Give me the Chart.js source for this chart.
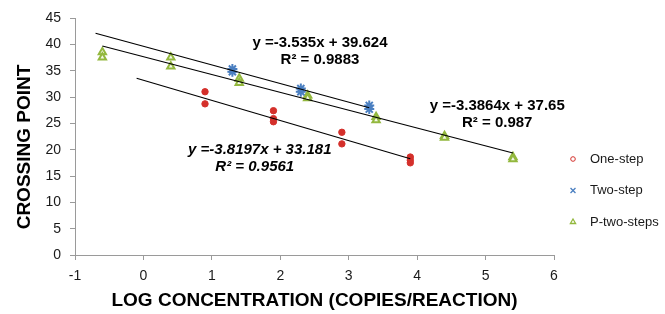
<!DOCTYPE html>
<html>
<head>
<meta charset="utf-8">
<script src="https://cdn.jsdelivr.net/npm/chart.js@4.4.1/dist/chart.umd.min.js"></script>
<style>
  html, body { margin: 0; padding: 0; background: #ffffff; }
  #wrap { width: 665px; height: 314px; position: relative; }
</style>
</head>
<body>
<div id="wrap"><canvas id="c" width="665" height="314"></canvas></div>
<script>
// ---- data ----
const xTickLabels = ['-1', '0', '1', '2', '3', '4', '5', '6'];
const yTickLabels = ['0', '5', '10', '15', '20', '25', '30', '35', '40', '45'];

const seriesNames = ['One-step', 'Two-step', 'P-two-steps'];

const oneStepX = [0.9, 0.9, 1.9, 1.9, 1.9, 2.9, 2.9, 3.9, 3.9, 3.9];
const oneStepY = [31.0, 28.7, 27.4, 25.9, 25.3, 23.3, 21.1, 18.6, 18.0, 17.5];

const twoStepX = [1.3, 1.3, 2.3, 2.3, 3.3, 3.3];
const twoStepY = [35.3, 34.8, 31.6, 31.0, 28.4, 27.7];

const pTwoX = [-0.6, -0.6, 0.4, 0.4, 1.4, 1.4, 2.4, 2.4, 3.4, 3.4, 4.4, 4.4, 5.4, 5.4];
const pTwoY = [38.5, 37.5, 37.5, 35.8, 33.5, 32.7, 30.3, 29.8, 26.2, 25.6, 22.6, 22.3, 18.6, 18.2];

// trendline end points (as drawn in the reference)
const trendOneX = [-0.1, 3.9];
const trendOneY = [33.56, 18.28];
const trendTwoX = [-0.7, 3.3];
const trendTwoY = [42.10, 27.96];
const trendPX = [-0.6, 5.4];
const trendPY = [39.68, 19.36];

const eqTexts = [
  ['y =-3.8197x + 33.181', 'R\u00B2 = 0.9561'],
  ['y =-3.535x + 39.624', 'R\u00B2 = 0.9883'],
  ['y =-3.3864x + 37.65', 'R\u00B2 = 0.987']
];

const xTitle = 'LOG CONCENTRATION (COPIES/REACTION)';
const yTitle = 'CROSSING POINT';

// ---- helpers ----
function pts(xs, ys) { return xs.map((x, i) => ({ x: x, y: ys[i] })); }

const RED = '#d4302b';
const BLUE = '#4a7fc1';
const GREEN = '#93b83e';
const FONT = '"Liberation Sans", Arial, Helvetica, sans-serif';

const trendStyle = {
  type: 'line', showLine: true, borderColor: '#000000', borderWidth: 1.2,
  pointRadius: 0, pointHoverRadius: 0, fill: false, tension: 0
};

const datasets = [
  Object.assign({ label: 'trend-one', data: pts(trendOneX, trendOneY) }, trendStyle),
  Object.assign({ label: 'trend-two', data: pts(trendTwoX, trendTwoY) }, trendStyle),
  Object.assign({ label: 'trend-p', data: pts(trendPX, trendPY) }, trendStyle),
  {
    label: seriesNames[0], type: 'scatter', data: pts(oneStepX, oneStepY),
    pointStyle: 'circle', pointRadius: 3.2, backgroundColor: RED, borderColor: RED, borderWidth: 1,
    legendStyle: { style: 'circle', r: 2.3, fill: '#ffffff', stroke: RED, w: 1 }
  },
  {
    label: seriesNames[1], type: 'scatter', data: pts(twoStepX, twoStepY),
    pointStyle: 'star', pointRadius: 5, backgroundColor: BLUE, borderColor: BLUE, borderWidth: 2,
    legendStyle: { style: 'crossRot', r: 3.5, fill: BLUE, stroke: BLUE, w: 1.3 }
  },
  {
    label: seriesNames[2], type: 'scatter', data: pts(pTwoX, pTwoY),
    pointStyle: 'triangle', pointRadius: 4.2, backgroundColor: '#f4f8ea', borderColor: GREEN, borderWidth: 2,
    legendStyle: { style: 'triangle', r: 3, fill: '#ffffff', stroke: GREEN, w: 1.3 }
  }
];

// annotations anchored in data coordinates
const eqAnchors = [
  { x: 1.70, y: 19.9, italic: true },
  { x: 2.58, y: 40.2, italic: false },
  { x: 5.17, y: 28.3, italic: false }
];

const annotationPlugin = {
  id: 'eqText',
  afterDatasetsDraw(chart) {
    const ctx = chart.ctx;
    const xs = chart.scales.x, ys = chart.scales.y;
    ctx.save();
    ctx.fillStyle = '#000000';
    ctx.textAlign = 'center';
    ctx.textBaseline = 'middle';
    eqTexts.forEach((lines, i) => {
      const a = eqAnchors[i];
      const px = xs.getPixelForValue(a.x);
      const py = ys.getPixelForValue(a.y);
      ctx.font = (a.italic ? 'italic ' : '') + 'bold 15px ' + FONT;
      ctx.fillText(lines[0], px, py);
      ctx.fillText(lines[1], px - (a.italic ? 5 : 0), py + 17);
    });
    ctx.restore();
  }
};

const yTitlePlugin = {
  id: 'yTitle',
  afterDraw(chart) {
    const ctx = chart.ctx;
    ctx.save();
    ctx.translate(25, 147);
    ctx.rotate(-Math.PI / 2);
    ctx.font = 'bold 19px ' + FONT;
    ctx.fillStyle = '#000000';
    ctx.textAlign = 'center';
    ctx.textBaseline = 'middle';
    ctx.fillText(yTitle, 0, 0);
    ctx.restore();
  }
};

const legendPlugin = {
  id: 'sideLegend',
  afterDraw(chart) {
    const ctx = chart.ctx;
    const area = chart.chartArea;
    const items = chart.data.datasets.filter(d => d.legendStyle);
    ctx.save();
    ctx.font = '13px ' + FONT;
    ctx.textBaseline = 'middle';
    ctx.textAlign = 'left';
    items.forEach((d, i) => {
      const cy = 159 + i * 31.5;
      const mx = area.right + 19;
      const s = d.legendStyle;
      ctx.fillStyle = s.fill;
      ctx.strokeStyle = s.stroke;
      ctx.lineWidth = s.w;
      Chart.helpers.drawPoint(ctx, { pointStyle: s.style, radius: s.r, borderWidth: s.w, rotation: 0 }, mx, cy);
      ctx.fillStyle = '#1a1a1a';
      ctx.fillText(d.label, mx + 17, cy);
    });
    ctx.restore();
  }
};

new Chart(document.getElementById('c'), {
  type: 'scatter',
  data: { datasets: datasets },
  plugins: [annotationPlugin, legendPlugin, yTitlePlugin],
  options: {
    responsive: false,
    animation: false,
    layout: { padding: { top: 18, right: 111, left: 0, bottom: 0 } },
    plugins: { legend: { display: false }, tooltip: { enabled: false } },
    scales: {
      x: {
        type: 'linear', min: -1, max: 6,
        afterFit(scale) { scale.height = 59; },
        afterBuildTicks(scale) { scale.ticks = xTickLabels.map(v => ({ value: Number(v) })); },
        ticks: {
          color: '#1a1a1a', font: { family: FONT, size: 14 }, padding: 8,
          callback: (v) => xTickLabels[xTickLabels.indexOf(String(v))]
        },
        grid: { drawOnChartArea: false, drawTicks: true, tickLength: 5, color: '#9a9a9a', tickColor: '#9a9a9a' },
        border: { display: true, color: '#9a9a9a', width: 1 },
        title: {
          display: true, text: xTitle, color: '#000000',
          font: { family: FONT, size: 19, weight: 'bold' }, padding: { top: 0, bottom: 2 }
        }
      },
      y: {
        type: 'linear', min: 0, max: 45,
        afterFit(scale) { scale.width = 75; },
        afterBuildTicks(scale) { scale.ticks = yTickLabels.map(v => ({ value: Number(v) })); },
        ticks: {
          color: '#1a1a1a', font: { family: FONT, size: 14 }, padding: 9,
          callback: (v) => yTickLabels[yTickLabels.indexOf(String(v))]
        },
        grid: { drawOnChartArea: false, drawTicks: true, tickLength: 5, color: '#9a9a9a', tickColor: '#9a9a9a' },
        border: { display: true, color: '#9a9a9a', width: 1 },
        title: { display: false }
      }
    }
  }
});
</script>
</body>
</html>
